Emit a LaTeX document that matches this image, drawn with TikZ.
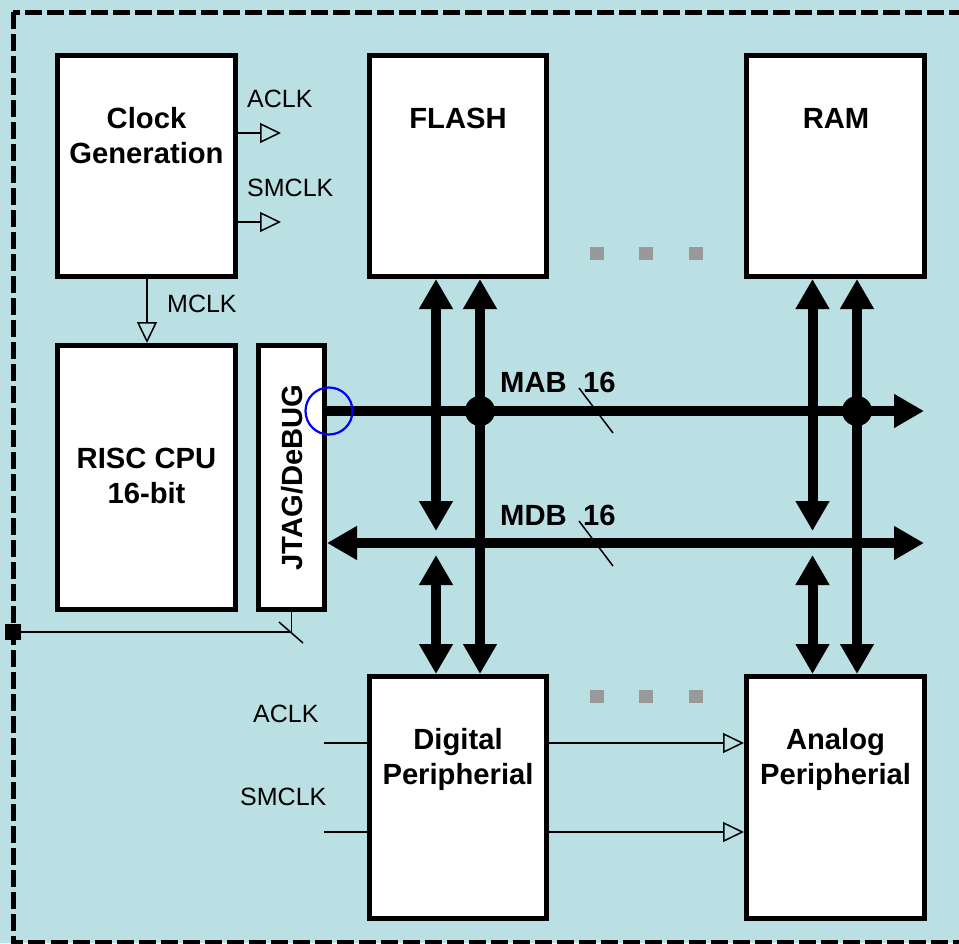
\documentclass[tikz,border=0pt]{standalone}
\usepackage{fontspec}
\setmainfont{Liberation Sans}
\usetikzlibrary{arrows.meta}
\definecolor{bg}{RGB}{186,224,227}
\definecolor{sqgray}{RGB}{153,153,153}
\tikzset{
  BusTip/.tip={Triangle[length=30pt,width=32pt]},
  ClkTip/.tip={Triangle[open,length=21pt,width=20pt]},
  blk/.style={draw=black,line width=5pt,fill=white,inner sep=0pt},
  bl/.style={font=\fontsize{29.2}{34}\selectfont\bfseries,inner sep=0pt,anchor=base},
  sig/.style={font=\fontsize{25}{30}\selectfont,inner sep=0pt,anchor=west},
  bus/.style={line width=10pt},
  thinln/.style={line width=1.5pt},
  sq/.style={fill=sqgray,draw=none,minimum width=14pt,minimum height=13pt,inner sep=0pt},
  junc/.style={circle,fill=black,minimum size=30pt,inner sep=0pt},
}
\begin{document}
\begin{tikzpicture}[x=1pt,y=-1pt]
\useasboundingbox (0,0) rectangle (959,943);
\clip (0,0) rectangle (959,943);
\fill[bg] (0,0) rectangle (959,943);
\draw[line width=5pt,dash pattern=on 17pt off 5pt] (13,12) rectangle (1000,942.5);

% boxes
\node[blk,minimum width=178pt,minimum height=221pt] (clock) at (146.5,166) {};
\node[blk,minimum width=177pt,minimum height=221pt] (flash) at (458,166) {};
\node[blk,minimum width=178pt,minimum height=221pt] (ram) at (835.5,166) {};
\node[blk,minimum width=178pt,minimum height=264pt] (cpu) at (146.5,477.5) {};
\node[blk,minimum width=66pt,minimum height=264pt] (jtag) at (291.5,477.5) {};
\node[blk,minimum width=177pt,minimum height=242pt] (digital) at (458,797.5) {};
\node[blk,minimum width=178pt,minimum height=242pt] (analog) at (835.5,797.5) {};

% box texts
\node[bl] (t1) at (146.5,128) {Clock};
\node[bl] (t2) at (146.5,163) {Generation};
\node[bl] (t3) at (458,128) {FLASH};
\node[bl] (t4) at (836,128) {RAM};
\node[bl] (t5) at (146.5,468) {RISC CPU};
\node[bl] (t6) at (146.5,503) {16-bit};
\node[bl,rotate=90] (t7) at (302,477.5) {JTAG/DeBUG};
\node[bl] (t8) at (458,749) {Digital};
\node[bl] (t9) at (458,784) {Peripherial};
\node[bl] (t10) at (835.5,749) {Analog};
\node[bl] (t11) at (835.5,784) {Peripherial};

% coordinates
\coordinate (fa) at (436,0);
\coordinate (fb) at (480,0);
\coordinate (ra) at (812.5,0);
\coordinate (rb) at (857,0);
\coordinate (mabY) at (0,411);
\coordinate (mdbY) at (0,543);
\coordinate (upY) at (0,531);
\coordinate (loY) at (0,555);
\coordinate (mabend) at (924,411);
\coordinate (mdbend) at (924,543);

% buses
\draw[bus,{BusTip}-{BusTip}] (fa |- flash.south) -- (fa |- upY);
\draw[bus,{BusTip}-{BusTip}] (fa |- loY) -- (fa |- digital.north);
\draw[bus,{BusTip}-{BusTip}] (fb |- flash.south) -- (fb |- digital.north);
\draw[bus,{BusTip}-{BusTip}] (ra |- ram.south) -- (ra |- upY);
\draw[bus,{BusTip}-{BusTip}] (ra |- loY) -- (ra |- analog.north);
\draw[bus,{BusTip}-{BusTip}] (rb |- ram.south) -- (rb |- analog.north);
\draw[bus,-{BusTip}] (jtag.east |- mabY) -- (mabend);
\draw[bus,{BusTip}-{BusTip}] (jtag.east |- mdbY) -- (mdbend);
\node[junc] (j1) at (fb |- mabY) {};
\node[junc] (j2) at (rb |- mabY) {};

% bus labels and width slashes
\node[bl,anchor=base west] (mab) at (500,392) {MAB};
\node[bl,anchor=base west] (mab16) at (583,392) {16};
\node[bl,anchor=base west] (mdb) at (500,525) {MDB};
\node[bl,anchor=base west] (mdb16) at (583,525) {16};
\draw[thinln] (579,388) -- (613,433);
\draw[thinln] (579,521) -- (613,566);

% clock signals
\coordinate (aclkT) at (281,133);
\coordinate (smclkT) at (281,222);
\coordinate (mclkx) at (147,0);
\draw[thinln,-{ClkTip}] (clock.east |- aclkT) -- (aclkT);
\draw[thinln,-{ClkTip}] (clock.east |- smclkT) -- (smclkT);
\draw[thinln,-{ClkTip}] (clock.south -| mclkx) -- (cpu.north -| mclkx);
\node[sig] (l1) at (247,99) {ACLK};
\node[sig] (l2) at (247,188) {SMCLK};
\node[sig] (l3) at (167,304) {MCLK};

\coordinate (aclkB) at (324,743);
\coordinate (smclkB) at (324,832);
\draw[thinln] (aclkB) -- (aclkB -| digital.west);
\draw[thinln] (smclkB) -- (smclkB -| digital.west);
\draw[thinln,-{ClkTip}] (aclkB -| digital.east) -- (aclkB -| analog.west);
\draw[thinln,-{ClkTip}] (smclkB -| digital.east) -- (smclkB -| analog.west);
\node[sig] (l4) at (253,714) {ACLK};
\node[sig] (l5) at (240,797) {SMCLK};

% JTAG port
\node[fill=black,draw=none,minimum size=16pt,inner sep=0pt] (port) at (13,632) {};
\draw[thinln] (jtag.south) |- (port.center);
\draw[thinln] (279,622) -- (303,643);

% ellipsis squares
\node[sq] (d1) at (597,253.5) {};
\node[sq] (d2) at (646,253.5) {};
\node[sq] (d3) at (696,253.5) {};
\node[sq] (d4) at (597,696) {};
\node[sq] (d5) at (646,696) {};
\node[sq] (d6) at (696,696) {};

% probe circle
\node[draw=blue,circle,line width=2.2pt,minimum size=47pt,inner sep=0pt] (probe) at (329,411) {};
\end{tikzpicture}
\end{document}
